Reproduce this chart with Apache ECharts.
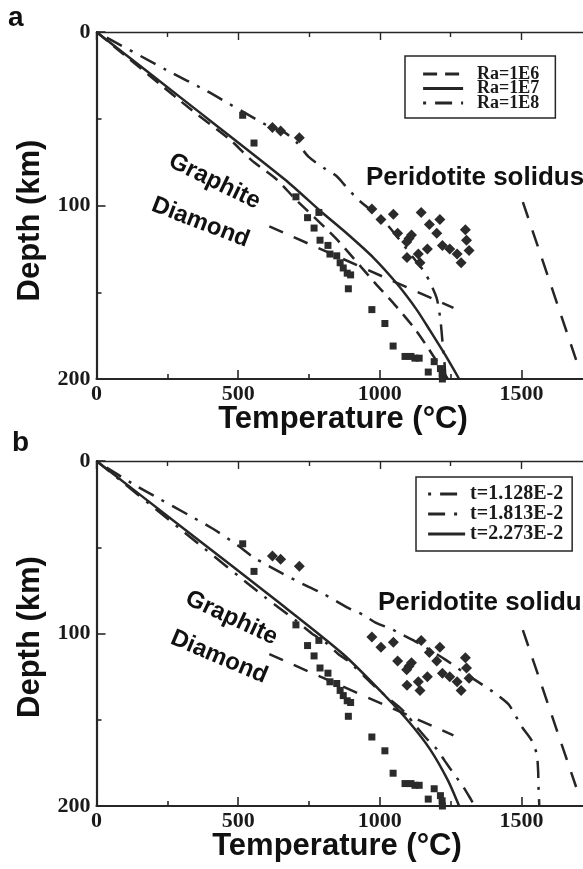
<!DOCTYPE html>
<html><head><meta charset="utf-8">
<script src="https://cdn.jsdelivr.net/npm/echarts@6/dist/echarts.min.js"></script>
<style>html,body{margin:0;padding:0;background:#fff}#c{width:583px;height:869px}</style>
</head><body><div id="c"></div>
<script>
// ---------- data (Temperature °C, Depth km) ----------
const xTickLabels = [0, 500, 1000, 1500];
const yTickLabels = [0, 100, 200];

const squares = [[516,48],[556,64],[704,95],[745,107],[785,104],[768,113],[789,120],[817,123],[824,128],[848,129],[860,133],[871,136],[885,139],[897,140],[889,148],[972,160],[1018,168],[1047,181],[1089,187],[1110,187],[1124,188],[1139,188],[1171,196],[1192,190],[1214,194],[1220,197],[1221,200]];
const diamonds = [[621,55],[650,57],[716,61],[972,102],[1048,105],[1146,104],[1212,108],[1004,108],[1175,111],[1063,116],[1103,119],[1201,116],[1302,114],[1112,117],[1168,125],[1221,123],[1247,125],[1306,120],[1315,126],[1273,128],[1287,133],[1096,130],[1136,128],[1142,133],[1095,121]];
const graphiteDiamond = [[610,112],[1260,159]];
const peridotiteSolidus = [[1505,98],[1693,189]];

const ra1e6 = [[0,0],[336,45],[471,62],[548,74],[636,85],[700,96],[845,119],[985,145],[1057,158],[1128,172],[1190,187],[1240,200]];
const ra1e7 = [[0,0],[330,42],[665,85],[789,103],[883,116],[977,130],[1060,145],[1130,160],[1177,172],[1234,187],[1280,200]];
const ra1e8 = [[0,0],[248,22],[389,34],[604,54],[665,58],[709,64],[749,72],[808,79],[847,83],[880,89],[926,97],[1015,109],[1118,130],[1160,139],[1200,153],[1214,166],[1222,180],[1228,190],[1232,200]];

const t1128 = [[0,0],[136,14],[408,39],[499,49],[556,56],[654,65],[749,73],[801,77],[886,85],[939,89],[989,94],[1036,97],[1083,101],[1130,105],[1230,115],[1318,125],[1365,130],[1401,134],[1454,141],[1477,147],[1501,154],[1536,162],[1554,170],[1559,180],[1560,188],[1563,200]];
const t1813 = [[0,0],[300,40],[595,79],[700,92],[760,100],[807,105],[854,112],[889,116],[965,128],[1012,135],[1071,143],[1095,147],[1124,153],[1160,160],[1201,167],[1230,174],[1260,181],[1295,189],[1321,196],[1335,200]];
const t2273 = [[0,0],[330,42],[636,81],[871,112],[1024,137],[1107,152],[1177,167],[1240,185],[1280,200]];

// ---------- chart ----------
const chart = echarts.init(document.getElementById('c'), null, {renderer: 'canvas'});
const INK = '#262626';
const SERIF = '"Liberation Serif", "Times New Roman", serif';
const SANS = '"Liberation Sans", Arial, sans-serif';
const PXDEG = 0.2833;

function xAxisBottom(gi) {
  return {type:'value', gridIndex:gi, position:'bottom', min:0, max:2000, interval:500,
    axisLine:{onZero:false, lineStyle:{color:INK, width:2.2}},
    axisTick:{inside:true, length:9, lineStyle:{color:INK, width:1.6}},
    minorTick:{show:true, splitNumber:2, length:5, lineStyle:{color:INK, width:1.6}},
    splitLine:{show:false}, minorSplitLine:{show:false},
    axisLabel:{formatter:v => xTickLabels.includes(v) ? String(v) : '', margin:4, color:'#1a1a1a',
      fontFamily:SERIF, fontWeight:'bold', fontSize:22}};
}
function xAxisTop(gi) {
  return {type:'value', gridIndex:gi, position:'top', min:0, max:2000, interval:500,
    axisLine:{onZero:false, lineStyle:{color:INK, width:1.3}},
    axisTick:{inside:true, length:8, lineStyle:{color:INK, width:1.4}},
    minorTick:{show:true, splitNumber:2, length:5, lineStyle:{color:INK, width:1.4}},
    splitLine:{show:false}, minorSplitLine:{show:false}, axisLabel:{show:false}};
}
function yAxisLeft(gi) {
  return {type:'value', gridIndex:gi, position:'left', inverse:true, min:0, max:200, interval:100,
    axisLine:{onZero:false, lineStyle:{color:INK, width:2.2}},
    axisTick:{inside:true, length:9, lineStyle:{color:INK, width:1.6}},
    minorTick:{show:true, splitNumber:2, length:5, lineStyle:{color:INK, width:1.6}},
    splitLine:{show:false}, minorSplitLine:{show:false},
    axisLabel:{formatter:v => yTickLabels.includes(v) ? String(v) : '', margin:6, color:'#1a1a1a',
      fontFamily:SERIF, fontWeight:'bold', fontSize:22}};
}
function line(name, data, gi, dash, width) {
  return {type:'line', name:name, xAxisIndex:gi*2, yAxisIndex:gi, data:data, symbol:'none',
    smooth:0.25, z:3, silent:true, itemStyle:{color:INK},
    lineStyle:{color:INK, width:width || 2.5, type:dash || 'solid', cap:'butt'}};
}
function points(data, gi, sym, size) {
  return {type:'scatter', xAxisIndex:gi*2, yAxisIndex:gi, data:data, symbol:sym, symbolSize:size,
    z:4, silent:true, itemStyle:{color:'#2b2b2b', opacity:1}};
}

const series = [];
[0,1].forEach(gi => {
  series.push(line('_gd'+gi, graphiteDiamond, gi, [15,12], 2.5));
  series.push(line('_sol'+gi, peridotiteSolidus, gi, [17,13], 2.5));
  series.push(points(squares, gi, 'rect', 7));
  series.push(points(diamonds, gi, 'diamond', 11));
});
series.push(line('Ra=1E6', ra1e6, 0, [14,8]));
series.push(line('Ra=1E7', ra1e7, 0, 'solid'));
series.push(line('Ra=1E8', ra1e8, 0, [3,9,17,9]));
series.push(line('t=1.128E-2', t1128, 1, [3,9,17,9]));
series.push(line('t=1.813E-2', t1813, 1, [17,9,3,9]));
series.push(line('t=2.273E-2', t2273, 1, 'solid'));

function txt(x, y, text, size, rot, align, family) {
  return {type:'text', x:x, y:y, rotation:rot || 0, z:10, silent:true,
    style:{text:text, fill:'#111', fontFamily:family || SANS, fontWeight:'bold', fontSize:size,
      align:align || 'center', verticalAlign:'middle', textAlign:align || 'center', textVerticalAlign:'middle'}};
}
const deg = Math.PI / 180;

chart.setOption({
  animation:false,
  backgroundColor:'#fff',
  grid:[
    {left:96.5, top:32, width:2000*PXDEG, height:347, containLabel:false, outerBoundsMode:'none'},
    {left:96.5, top:461, width:2000*PXDEG, height:345, containLabel:false, outerBoundsMode:'none'}
  ],
  xAxis:[xAxisBottom(0), xAxisTop(0), xAxisBottom(1), xAxisTop(1)],
  yAxis:[yAxisLeft(0), yAxisLeft(1)],
  legend:[
    {data:['Ra=1E6','Ra=1E7','Ra=1E8'], orient:'vertical', left:405, top:56, selectedMode:false,
     itemWidth:40, itemHeight:14, itemGap:-3.5, padding:[9,16,6,16.7],
     itemStyle:{opacity:0}, lineStyle:{width:2.8},
     borderColor:INK, borderWidth:1.5, backgroundColor:'#fff',
     textStyle:{fontFamily:SERIF, fontWeight:'bold', fontSize:18, lineHeight:14.5, color:'#1a1a1a', padding:[0,0,0,9]}},
    {data:['t=1.128E-2','t=1.813E-2','t=2.273E-2'], orient:'vertical', left:416, top:477, selectedMode:false,
     itemWidth:37, itemHeight:19, itemGap:0, padding:[7,9,7,10.7],
     itemStyle:{opacity:0}, lineStyle:{width:2.8},
     borderColor:INK, borderWidth:1.5, backgroundColor:'#fff',
     textStyle:{fontFamily:SERIF, fontWeight:'bold', fontSize:20, lineHeight:19.5, color:'#1a1a1a'}}
  ],
  graphic:[
    txt(8, 18, 'a', 28, 0, 'left'),
    txt(12, 443, 'b', 28, 0, 'left'),
    txt(30, 220.5, 'Depth (km)', 31, 90*deg),
    txt(30, 637, 'Depth (km)', 31, 90*deg),
    txt(343, 419, 'Temperature (°C)', 31, 0),
    txt(337, 846, 'Temperature (°C)', 31, 0),
    txt(214.5, 181.5, 'Graphite', 24, -26*deg),
    txt(200.5, 222.5, 'Diamond', 24, -21*deg),
    txt(231.5, 618, 'Graphite', 24, -25*deg),
    txt(219, 657, 'Diamond', 24, -23*deg),
    txt(366, 178, 'Peridotite solidus', 26, 0, 'left'),
    txt(378, 603, 'Peridotite solidus', 26, 0, 'left')
  ],
  series:series
});
</script></body></html>
